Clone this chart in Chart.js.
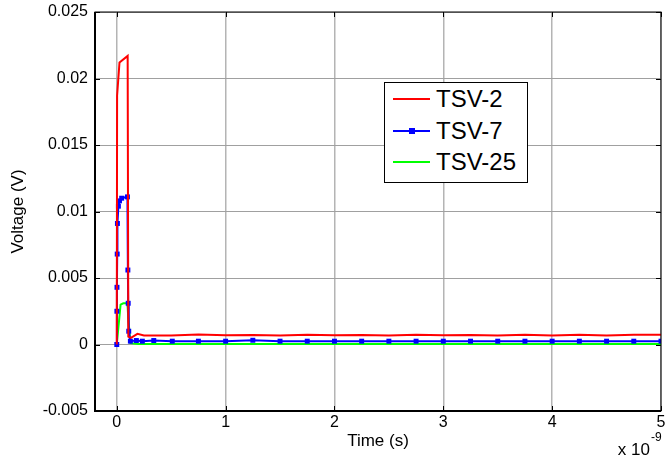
<!DOCTYPE html>
<html>
<head>
<meta charset="utf-8">
<script src="https://cdn.jsdelivr.net/npm/chart.js@4"></script>
<style>
body{margin:0;background:#fff;}
#wrap{position:relative;width:665px;height:459px;}
#legend{position:absolute;left:384px;top:82px;width:142px;height:99px;border:1px solid #000;background:#fff;
  font-family:"Liberation Sans",Arial,sans-serif;font-size:24px;color:#000;}
.row{position:relative;height:31.5px;}
.row .ln{position:absolute;left:8px;top:15px;width:37px;height:2px;}
.row .mk{position:absolute;left:16px;top:-2px;width:6px;height:6px;}
.row .tx{position:absolute;left:51px;top:3px;line-height:26px;}
</style>
</head>
<body>
<div id="wrap">
<canvas id="c" width="665" height="459"></canvas>
<div id="legend"></div>
</div>
<script>
// =====================================
// DADOS (tempo em ns, tensao em V)
// =====================================

const seriesNames = ["TSV-2", "TSV-7", "TSV-25"];
const seriesColors = ["#ff0000", "#0000ff", "#00ff00"];

const timeTSV2 = [0, 0.003, 0.025, 0.1, 0.106, 0.13, 0.19, 0.25, 0.5, 0.75, 1.0, 1.25, 1.5, 1.75, 2.0, 2.25, 2.5, 2.75, 3.0, 3.25, 3.5, 3.75, 4.0, 4.25, 4.5, 4.75, 5.0];
const voltTSV2 = [0, 0.0187, 0.0212, 0.0217, 0.0006, 0.0005, 0.0008, 0.00068, 0.00068, 0.00075, 0.0007, 0.00072, 0.00068, 0.00074, 0.0007, 0.00072, 0.00068, 0.00074, 0.0007, 0.00072, 0.00068, 0.00074, 0.00067, 0.00074, 0.00068, 0.00074, 0.00074];

const timeTSV7 = [0, 0.001, 0.002, 0.004, 0.006, 0.015, 0.025, 0.045, 0.098, 0.102, 0.105, 0.11, 0.125, 0.18, 0.235, 0.34, 0.51, 0.75, 1.0, 1.25, 1.5, 1.75, 2.0, 2.25, 2.5, 2.75, 3.0, 3.25, 3.5, 3.75, 4.0, 4.25, 4.5, 4.75, 5.0];
const voltTSV7 = [0, 0.0025, 0.0043, 0.0068, 0.0091, 0.0104, 0.0108, 0.011, 0.0111, 0.0056, 0.0031, 0.001, 0.00025, 0.0003, 0.00025, 0.0003, 0.00025, 0.00025, 0.00025, 0.00032, 0.00025, 0.00025, 0.00025, 0.00025, 0.00025, 0.00025, 0.00025, 0.00025, 0.00025, 0.00025, 0.00025, 0.00025, 0.00025, 0.00025, 0.00025];

const timeTSV25 = [0, 0.035, 0.06, 0.095, 0.1, 0.105, 0.125, 0.2, 0.5, 1.0, 1.5, 2.0, 2.5, 3.0, 3.5, 4.0, 4.5, 5.0];
const voltTSV25 = [0, 0.003, 0.0031, 0.0031, 0.0028, 0.0021, 0.0001, 0.00004, 0.00004, 0.00004, 0.00004, 0.00004, 0.00004, 0.00004, 0.00004, 0.00004, 0.00004, 0.00004];

const xTicks = [0, 1, 2, 3, 4, 5];


// =====================================
// AUXILIARES
// =====================================

function pontos(t, v){
    return t.map((x,i)=>({x:x, y:v[i]}));
}

const moldura = {
    id:"moldura",
    afterDraw(chart){
        const {ctx, chartArea:a, scales} = chart;
        ctx.save();
        ctx.strokeStyle = "#000";
        ctx.lineWidth = 1;
        ctx.beginPath();
        scales.x.ticks.forEach(t=>{
            const px = Math.round(scales.x.getPixelForValue(t.value)) + 0.5;
            ctx.moveTo(px, a.bottom); ctx.lineTo(px, a.bottom - 5);
            ctx.moveTo(px, a.top); ctx.lineTo(px, a.top + 5);
        });
        scales.y.ticks.forEach(t=>{
            const py = Math.round(scales.y.getPixelForValue(t.value)) + 0.5;
            ctx.moveTo(a.left, py); ctx.lineTo(a.left + 5, py);
            ctx.moveTo(a.right, py); ctx.lineTo(a.right - 5, py);
        });
        ctx.stroke();
        ctx.strokeRect(a.left, a.top, a.right - a.left, a.bottom - a.top);
        ctx.lineWidth = 2;
        ctx.beginPath();
        ctx.moveTo(a.left, a.top); ctx.lineTo(a.left, a.bottom); ctx.lineTo(a.right, a.bottom);
        ctx.stroke();

        // x 10^-9
        ctx.fillStyle = "#000";
        ctx.font = '17px "Liberation Sans", Arial, sans-serif';
        ctx.textAlign = "right";
        ctx.textBaseline = "alphabetic";
        ctx.fillText("x 10", 650, 455);
        ctx.font = '12px "Liberation Sans", Arial, sans-serif';
        ctx.textAlign = "left";
        ctx.fillText("-9", 651, 441);
        ctx.restore();
    }
};


// =====================================
// GRAFICO
// =====================================

new Chart(document.getElementById("c"),{
    type:"line",
    data:{
        datasets:[
            {
                label:seriesNames[0],
                data:pontos(timeTSV2, voltTSV2),
                borderColor:seriesColors[0],
                borderWidth:2,
                pointRadius:0
            },
            {
                label:seriesNames[1],
                data:pontos(timeTSV7, voltTSV7),
                borderColor:seriesColors[1],
                backgroundColor:seriesColors[1],
                borderWidth:2,
                pointStyle:"rect",
                pointRadius:3.5,
                pointBorderWidth:0
            },
            {
                label:seriesNames[2],
                data:pontos(timeTSV25, voltTSV25),
                borderColor:seriesColors[2],
                borderWidth:2,
                pointRadius:0
            }
        ]
    },
    options:{
        responsive:false,
        animation:false,
        devicePixelRatio:1,
        layout:{padding:{left:0, right:3, top:12, bottom:0}},
        plugins:{
            legend:{display:false},
            tooltip:{enabled:false}
        },
        scales:{
            x:{
                type:"linear",
                min:-0.2,
                max:5,
                afterBuildTicks:s=>{ s.ticks = xTicks.map(v=>({value:v})); },
                afterFit:s=>{ s.height = 48; s.paddingLeft = 0; s.paddingRight = 0; },
                grid:{color:"#b4b4b4", lineWidth:1.5, drawTicks:false},
                border:{display:false},
                ticks:{
                    color:"#000",
                    padding:2,
                    maxRotation:0,
                    font:{family:"Liberation Sans", size:16},
                    callback:v=>String(v)
                },
                title:{
                    display:true,
                    text:"Time (s)",
                    color:"#000",
                    font:{family:"Liberation Sans", size:17},
                    padding:{top:0, bottom:7}
                }
            },
            y:{
                min:-0.005,
                max:0.025,
                afterFit:s=>{ s.width = 95; s.paddingTop = 0; s.paddingBottom = 0; },
                grid:{color:"#a0a0a0", lineWidth:1, drawTicks:false},
                border:{display:false},
                ticks:{
                    stepSize:0.005,
                    color:"#000",
                    padding:7,
                    font:{family:"Liberation Sans", size:16},
                    callback:v=>String(Number(v.toFixed(3)))
                },
                title:{
                    display:true,
                    text:"Voltage (V)",
                    color:"#000",
                    font:{family:"Liberation Sans", size:17},
                    padding:{top:8, bottom:0}
                }
            }
        }
    },
    plugins:[moldura]
});


// =====================================
// LEGENDA
// =====================================

const legenda = document.getElementById("legend");
seriesNames.forEach((nome,i)=>{
    const row = document.createElement("div");
    row.className = "row";
    const ln = document.createElement("div");
    ln.className = "ln";
    ln.style.background = seriesColors[i];
    if(i===1){
        const mk = document.createElement("div");
        mk.className = "mk";
        mk.style.background = seriesColors[i];
        ln.appendChild(mk);
    }
    const tx = document.createElement("div");
    tx.className = "tx";
    tx.textContent = nome;
    row.appendChild(ln);
    row.appendChild(tx);
    legenda.appendChild(row);
});
</script>
</body>
</html>
